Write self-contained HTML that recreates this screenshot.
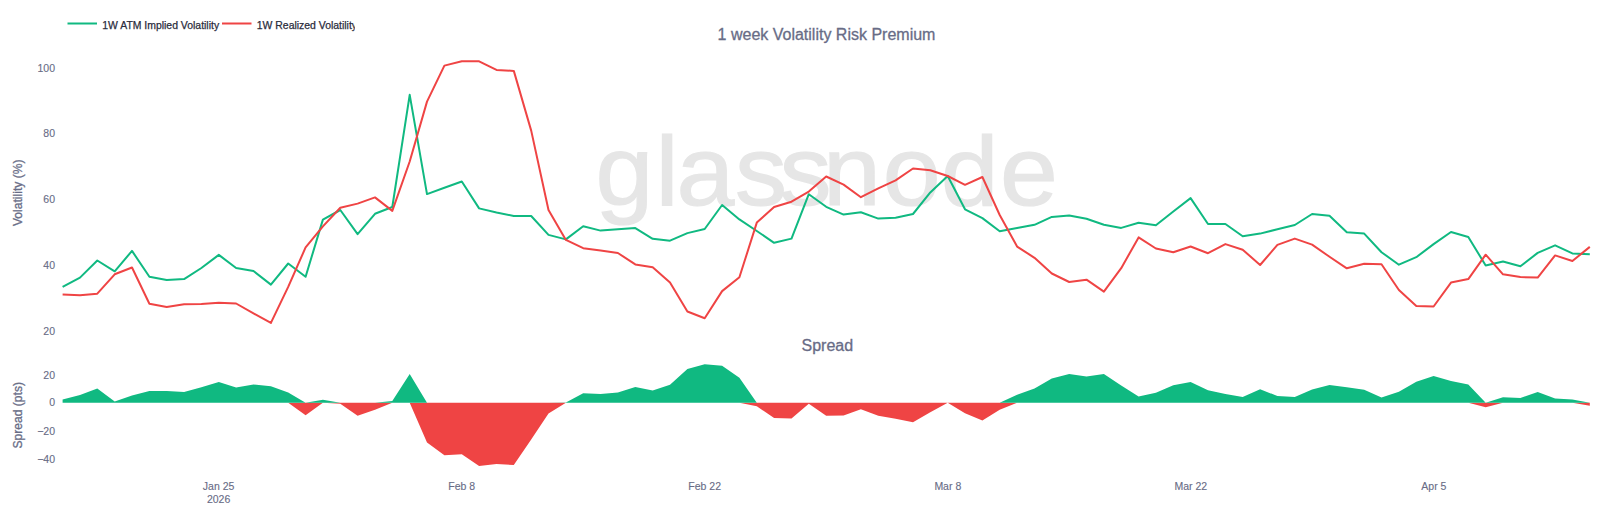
<!DOCTYPE html>
<html><head><meta charset="utf-8"><title>1 week Volatility Risk Premium</title>
<style>
html,body{margin:0;padding:0;background:#fff;}
body{width:1600px;height:516px;overflow:hidden;position:relative;font-family:"Liberation Sans",Arial,sans-serif;}
svg{position:absolute;left:0;top:0;display:block}
text{font-family:"Liberation Sans",Arial,sans-serif;}
.tick{font-size:10.5px;fill:#686c86;stroke:#686c86;stroke-width:0.12px;}
.ttl{font-size:16px;fill:#686c86;stroke:#686c86;stroke-width:0.3px;}
.axt{font-size:12.1px;fill:#686c86;stroke:#686c86;stroke-width:0.3px;}
.leg{font-size:10.43px;fill:#2a2c3c;stroke:#2a2c3c;stroke-width:0.25px;}
.wm{font-size:99px;fill:#e6e6e6;}
</style></head><body>
<svg width="1600" height="516" viewBox="0 0 1600 516">
<rect width="1600" height="516" fill="#ffffff"/>
<text class="wm" transform="scale(1.05,1)" y="205.3" x="567.2 624.3 644.3 700.1 742.4 783.7 840.8 895.9 952.4" stroke="#e6e6e6" stroke-width="1.2">glassnode</text>
<!-- legend -->
<clipPath id="lc"><rect x="60" y="10" width="294.8" height="26"/></clipPath>
<g clip-path="url(#lc)">
<line x1="67.5" y1="23.5" x2="97" y2="23.5" stroke="#10b981" stroke-width="2"/>
<text class="leg" x="102.3" y="28.9">1W ATM Implied Volatility</text>
<line x1="222" y1="23.5" x2="251.5" y2="23.5" stroke="#ef4444" stroke-width="2"/>
<text class="leg" x="256.8" y="28.9">1W Realized Volatility</text>
</g>
<!-- titles -->
<text class="ttl" x="826.5" y="40.2" text-anchor="middle">1 week Volatility Risk Premium</text>
<text class="ttl" x="827.3" y="351.3" text-anchor="middle">Spread</text>
<!-- y ticks main -->
<g class="tick" text-anchor="end">
<text x="55.0" y="71.6">100</text>
<text x="55.0" y="137.4">80</text>
<text x="55.0" y="203.1">60</text>
<text x="55.0" y="268.9">40</text>
<text x="55.0" y="334.6">20</text>
<text x="55.0" y="378.7">20</text>
<text x="55.0" y="406.4">0</text>
<text x="55.0" y="435.1">−20</text>
<text x="55.0" y="462.8">−40</text>
</g>
<text class="axt" transform="translate(21.8,192.8) rotate(-90)" text-anchor="middle">Volatility (%)</text>
<text class="axt" transform="translate(21.8,415.3) rotate(-90)" text-anchor="middle">Spread (pts)</text>
<!-- x ticks -->
<g class="tick" text-anchor="middle">
<text x="218.6" y="490.4">Jan 25</text>
<text x="218.6" y="503.4">2026</text>
<text x="461.7" y="490.4">Feb 8</text>
<text x="704.7" y="490.4">Feb 22</text>
<text x="947.8" y="490.4">Mar 8</text>
<text x="1190.8" y="490.4">Mar 22</text>
<text x="1433.9" y="490.4">Apr 5</text>
</g>
<!-- spread -->
<path d="M62.6,402.7 L62.6,402.7 L80.0,402.7 L97.3,402.7 L114.7,402.7 L132.0,402.7 L149.4,402.7 L166.7,402.7 L184.1,402.7 L201.4,402.7 L218.8,402.7 L236.1,402.7 L253.5,402.7 L270.9,402.7 L288.2,402.7 L305.6,415.3 L322.9,402.7 L340.3,403.7 L357.6,415.8 L375.0,409.7 L392.3,402.7 L409.7,402.7 L427.0,442.4 L444.4,455.2 L461.8,454.3 L479.1,465.9 L496.5,464.0 L513.8,465.0 L531.2,439.4 L548.5,413.4 L565.9,402.7 L583.2,402.7 L600.6,402.7 L617.9,402.7 L635.3,402.7 L652.7,402.7 L670.0,402.7 L687.4,402.7 L704.7,402.7 L722.1,402.7 L739.4,402.7 L756.8,406.3 L774.1,418.1 L791.5,418.6 L808.8,403.8 L826.2,415.7 L843.6,415.6 L860.9,409.2 L878.3,415.7 L895.6,418.8 L913.0,422.2 L930.3,412.2 L947.7,402.7 L965.0,413.2 L982.4,420.4 L999.7,409.7 L1017.1,402.7 L1034.5,402.7 L1051.8,402.7 L1069.2,402.7 L1086.5,402.7 L1103.9,402.7 L1121.2,402.7 L1138.6,402.7 L1155.9,402.7 L1173.3,402.7 L1190.6,402.7 L1208.0,402.7 L1225.4,402.7 L1242.7,402.7 L1260.1,402.7 L1277.4,402.7 L1294.8,402.7 L1312.1,402.7 L1329.5,402.7 L1346.8,402.7 L1364.2,402.7 L1381.5,402.7 L1398.9,402.7 L1416.3,402.7 L1433.6,402.7 L1451.0,402.7 L1468.3,402.7 L1485.7,407.3 L1503.0,402.7 L1520.4,402.7 L1537.7,402.7 L1555.1,402.7 L1572.4,402.7 L1589.8,405.8 L1589.8,402.7 Z" fill="#ef4444"/>
<path d="M62.6,402.7 L62.6,399.4 L80.0,395.1 L97.3,388.4 L114.7,401.4 L132.0,395.6 L149.4,391.1 L166.7,391.1 L184.1,391.9 L201.4,387.2 L218.8,382.1 L236.1,387.4 L253.5,384.5 L270.9,386.2 L288.2,392.6 L305.6,402.7 L322.9,399.8 L340.3,402.7 L357.6,402.7 L375.0,402.7 L392.3,401.0 L409.7,374.0 L427.0,402.7 L444.4,402.7 L461.8,402.7 L479.1,402.7 L496.5,402.7 L513.8,402.7 L531.2,402.7 L548.5,402.7 L565.9,402.5 L583.2,393.3 L600.6,394.1 L617.9,392.5 L635.3,387.1 L652.7,390.5 L670.0,384.7 L687.4,369.0 L704.7,364.3 L722.1,365.7 L739.4,377.8 L756.8,402.7 L774.1,402.7 L791.5,402.7 L808.8,402.7 L826.2,402.7 L843.6,402.7 L860.9,402.7 L878.3,402.7 L895.6,402.7 L913.0,402.7 L930.3,402.7 L947.7,402.7 L965.0,402.7 L982.4,402.7 L999.7,402.7 L1017.1,394.7 L1034.5,388.5 L1051.8,378.4 L1069.2,374.1 L1086.5,376.5 L1103.9,374.0 L1121.2,385.4 L1138.6,396.4 L1155.9,392.7 L1173.3,385.2 L1190.6,381.9 L1208.0,390.2 L1225.4,394.1 L1242.7,396.9 L1260.1,389.2 L1277.4,396.0 L1294.8,396.9 L1312.1,389.6 L1329.5,385.1 L1346.8,387.2 L1364.2,389.7 L1381.5,397.5 L1398.9,391.8 L1416.3,381.7 L1433.6,375.9 L1451.0,381.0 L1468.3,384.6 L1485.7,402.7 L1503.0,397.2 L1520.4,398.0 L1537.7,392.1 L1555.1,398.4 L1572.4,399.4 L1589.8,402.7 L1589.8,402.7 Z" fill="#10b981"/>
<!-- lines -->
<polyline points="62.6,286.9 80.0,277.6 97.3,260.5 114.7,271.3 132.0,250.9 149.4,276.8 166.7,280.1 184.1,279.1 201.4,268.0 218.8,254.9 236.1,268.0 253.5,271.0 270.9,284.6 288.2,263.5 305.6,276.8 322.9,219.6 340.3,210.0 357.6,234.2 375.0,213.8 392.3,207.0 409.7,94.8 427.0,194.1 444.4,187.8 461.8,181.5 479.1,208.4 496.5,212.5 513.8,216.0 531.2,216.0 548.5,234.9 565.9,239.4 583.2,226.3 600.6,230.6 617.9,229.3 635.3,228.1 652.7,238.8 670.0,240.7 687.4,233.1 704.7,229.0 722.1,205.0 739.4,219.4 756.8,231.0 774.1,242.8 791.5,238.6 808.8,194.2 826.2,206.8 843.6,214.6 860.9,212.3 878.3,218.6 895.6,217.8 913.0,214.0 930.3,192.4 947.7,176.0 965.0,209.3 982.4,218.1 999.7,231.2 1017.1,228.0 1034.5,224.8 1051.8,216.9 1069.2,215.4 1086.5,218.8 1103.9,224.8 1121.2,227.9 1138.6,222.8 1155.9,225.3 1173.3,211.5 1190.6,198.1 1208.0,224.0 1225.4,224.0 1242.7,236.3 1260.1,233.6 1277.4,229.3 1294.8,225.0 1312.1,214.0 1329.5,215.8 1346.8,232.3 1364.2,233.6 1381.5,252.2 1398.9,264.7 1416.3,257.2 1433.6,244.1 1451.0,232.0 1468.3,237.0 1485.7,265.5 1503.0,261.5 1520.4,266.2 1537.7,252.9 1555.1,245.3 1572.4,253.4 1589.8,254.2" fill="none" stroke="#10b981" stroke-width="2" stroke-linejoin="round" stroke-linecap="butt"/>
<polyline points="62.6,294.5 80.0,295.2 97.3,293.7 114.7,274.3 132.0,267.5 149.4,303.8 166.7,307.0 184.1,304.3 201.4,304.0 218.8,302.8 236.1,303.5 253.5,313.4 270.9,322.9 288.2,286.9 305.6,247.4 322.9,226.4 340.3,207.7 357.6,203.6 375.0,197.4 392.3,210.9 409.7,161.5 427.0,101.6 444.4,65.6 461.8,61.3 479.1,61.3 496.5,69.9 513.8,70.9 531.2,130.6 548.5,210.0 565.9,239.9 583.2,248.2 600.6,250.6 617.9,253.0 635.3,264.4 652.7,267.2 670.0,282.5 687.4,311.5 704.7,318.3 722.1,291.1 739.4,277.3 756.8,222.6 774.1,207.0 791.5,201.7 808.8,191.6 826.2,176.5 843.6,184.6 860.9,197.2 878.3,188.4 895.6,180.3 913.0,168.5 930.3,170.2 947.7,176.0 965.0,184.8 982.4,177.0 999.7,215.0 1017.1,246.6 1034.5,257.8 1051.8,273.5 1069.2,282.0 1086.5,279.7 1103.9,291.6 1121.2,268.2 1138.6,237.4 1155.9,248.5 1173.3,252.3 1190.6,246.5 1208.0,253.2 1225.4,244.1 1242.7,249.7 1260.1,265.0 1277.4,244.9 1294.8,238.6 1312.1,244.6 1329.5,256.7 1346.8,268.3 1364.2,263.8 1381.5,264.3 1398.9,290.0 1416.3,306.0 1433.6,306.5 1451.0,282.6 1468.3,279.1 1485.7,254.7 1503.0,274.3 1520.4,277.1 1537.7,277.6 1555.1,255.4 1572.4,261.0 1589.8,246.9" fill="none" stroke="#ef4444" stroke-width="2" stroke-linejoin="round" stroke-linecap="butt"/>
</svg>
</body></html>
